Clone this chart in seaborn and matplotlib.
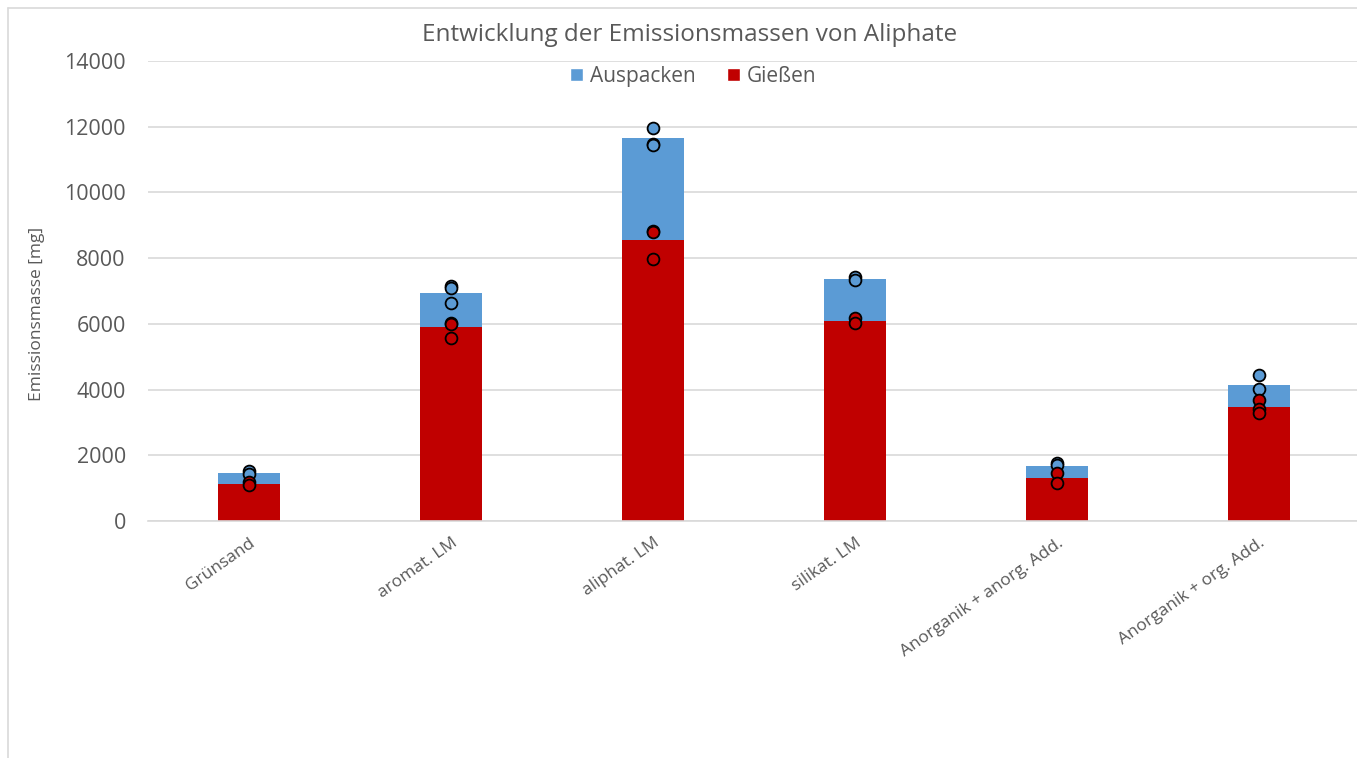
import matplotlib
matplotlib.use("Agg")
import matplotlib.pyplot as plt
from matplotlib.patches import Patch
from matplotlib.lines import Line2D
import seaborn as sns
import pandas as pd

# Categories (sand / binder systems)
categories = ["Grünsand", "aromat. LM", "aliphat. LM", "silikat. LM",
              "Anorganik + anorg. Add.", "Anorganik + org. Add."]

# Mean emission masses [mg]
giessen_mean = [1130, 5900, 8560, 6090, 1300, 3470]
auspacken_mean = [340, 1050, 3090, 1280, 370, 660]

# Individual measurements (cumulative totals for Auspacken)
giessen_pts = [[1200, 1100], [6030, 5990, 5570], [8820, 8800, 7970],
               [6180, 6030], [1460, 1160], [3680, 3420, 3290]]
total_pts = [[1530, 1430], [7150, 7080, 6620], [11960, 11470, 11430],
             [7430, 7330], [1760, 1700], [4440, 4020]]

blue = "#5B9BD5"
red = "#C00000"
grey = "#595959"
gridc = "#D9D9D9"

sns.set_theme(style="white")
plt.rcParams["font.family"] = ["Open Sans", "DejaVu Sans"]

fig = plt.figure(figsize=(13.57, 7.58), dpi=100)
W, H = 1357, 758
ax = fig.add_axes([148 / W, 1 - 521 / H, 1212 / W, 460 / H])

bars = pd.DataFrame({
    "cat": categories,
    "total": [g + a for g, a in zip(giessen_mean, auspacken_mean)],
    "giessen": giessen_mean,
})

sns.barplot(data=bars, x="cat", y="total", order=categories, color=blue,
            width=0.31, saturation=1, ax=ax, zorder=2, linewidth=0)
sns.barplot(data=bars, x="cat", y="giessen", order=categories, color=red,
            width=0.31, saturation=1, ax=ax, zorder=2, linewidth=0)

pts_tot = pd.DataFrame([(c, v) for c, vals in zip(categories, total_pts) for v in vals],
                       columns=["cat", "val"])
pts_g = pd.DataFrame([(c, v) for c, vals in zip(categories, giessen_pts) for v in vals],
                     columns=["cat", "val"])

sns.stripplot(data=pts_tot, x="cat", y="val", order=categories, jitter=False,
              color=blue, edgecolor="black", linewidth=1.3, size=8.5, ax=ax, zorder=4)
sns.stripplot(data=pts_g, x="cat", y="val", order=categories, jitter=False,
              color=red, edgecolor="black", linewidth=1.3, size=8.5, ax=ax, zorder=5)

ax.set_ylim(0, 14000)
ax.set_xlim(-0.5, len(categories) - 0.5)
ax.set_yticks(range(0, 14001, 2000))
ax.yaxis.grid(True, color=gridc, linewidth=1.2, zorder=0)
ax.set_axisbelow(True)
for s in ["top", "right", "left"]:
    ax.spines[s].set_visible(False)
ax.spines["bottom"].set_color(gridc)
ax.spines["bottom"].set_linewidth(1.2)
ax.tick_params(axis="y", length=0, pad=16, labelsize=15.5, labelcolor=grey)
ax.tick_params(axis="x", length=0, pad=10, labelsize=12.5, labelcolor=grey)
for lbl in ax.get_xticklabels():
    lbl.set_rotation(35)
    lbl.set_ha("right")
    lbl.set_rotation_mode("anchor")
ax.set_xlabel("")
ax.set_ylabel("Emissionsmasse [mg]", fontsize=12.5, color=grey)
ax.yaxis.set_label_coords(-0.085, 0.45)

handles = [Patch(facecolor=blue, label="Auspacken"), Patch(facecolor=red, label="Gießen")]
ax.legend(handles=handles, loc="center", bbox_to_anchor=(0.45, 0.967), ncol=2,
          frameon=False, fontsize=15, labelcolor=grey, handlelength=0.6,
          handleheight=0.6, handletextpad=0.35, columnspacing=1.5)

fig.text(690 / W, 1 - 35 / H, "Entwicklung der Emissionsmassen von Aliphate",
         ha="center", va="center", fontsize=17.5, color=grey)

# Chart area frame
fig.add_artist(Line2D([8 / W, 8 / W], [0, 1 - 8 / H], color=gridc, lw=1.2))
fig.add_artist(Line2D([8 / W, 1], [1 - 8 / H, 1 - 8 / H], color=gridc, lw=1.2))

fig.savefig("out.png", dpi=100)
